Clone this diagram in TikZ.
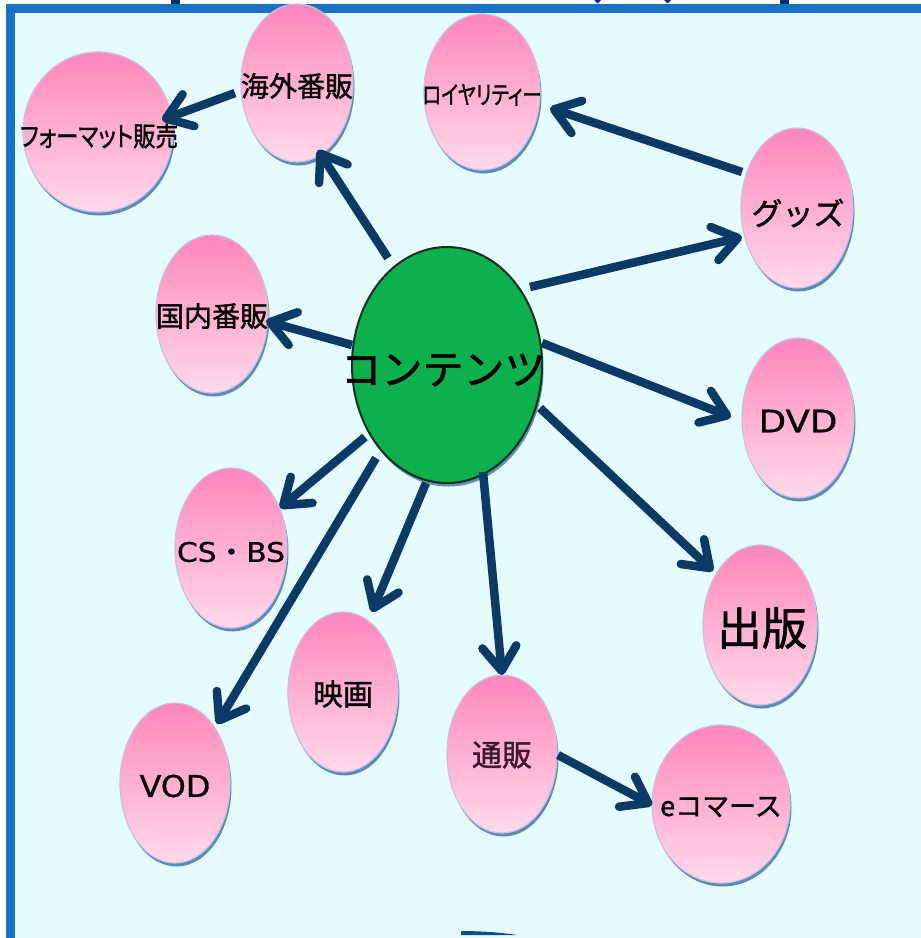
\documentclass[tikz,border=0pt]{standalone}
\usepackage{fontspec}
\newfontfamily\jp[FakeBold=1.3]{Noto Sans CJK JP}
\newfontfamily\jpp[RawFeature=+palt,FakeBold=1.3]{Noto Sans CJK JP}
\newfontfamily\lat[FakeBold=0.8]{DejaVu Sans}
\usetikzlibrary{shapes.geometric,arrows.meta,shadows}
\definecolor{bgc}{HTML}{E4FCFD}
\definecolor{framec}{HTML}{1872C6}
\definecolor{navy}{HTML}{0B3A66}
\definecolor{pinktop}{HTML}{FF86BB}
\definecolor{pinkbot}{HTML}{FFDAEA}
\definecolor{rimc}{HTML}{CDBDEA}
\definecolor{shadowc}{HTML}{4A83A8}
\definecolor{greenc}{HTML}{0CB14E}
\definecolor{greenrim}{HTML}{142E20}
\definecolor{darkbit}{HTML}{0B2F6A}
\definecolor{bottombit}{HTML}{0B4F8F}
\definecolor{tsuhanc}{HTML}{3B1B2E}
\tikzset{
  pinkball/.style={ellipse, inner sep=0pt, outer sep=0pt,
    top color=pinktop, bottom color=pinkbot, draw=rimc, line width=1.2pt,
    drop shadow={shadow xshift=1.5pt, shadow yshift=-3.5pt, fill=shadowc, opacity=0.9}},
  greenball/.style={ellipse, inner sep=0pt, outer sep=0pt,
    fill=greenc, draw=greenrim, line width=2pt,
    drop shadow={shadow xshift=1.5pt, shadow yshift=-3.5pt, fill=shadowc, opacity=0.9}},
  lbl/.style={inner sep=0pt, text=black},
  arr/.style={draw=navy, line width=8.5pt, -{Straight Barb[length=24pt,width=34pt,round]}}
}
\newcommand{\fs}[1]{\fontsize{#1}{#1}\selectfont}
\begin{document}
\begin{tikzpicture}[x=1pt,y=-1pt]
\useasboundingbox (0,0) rectangle (921,938);
\fill[white] (0,0) rectangle (921,938);
% frame
\draw[framec, fill=bgc, line width=9pt] (10,8.5) rectangle (935,943.5);
% cut-off marks at the top edge
\fill[darkbit] (171,0) rectangle (180,3.5);
\fill[darkbit] (594,0) -- (601,0) -- (597.5,3.5) -- cycle;
\fill[darkbit] (664,0) -- (671,0) -- (667.5,3.5) -- cycle;
\fill[darkbit] (780,0) rectangle (789,3.5);
% cut-off shape at the bottom edge
\fill[bottombit] (461,935) -- (461,931) .. controls (485,931) and (505,933) .. (517,935) -- cycle;

% nodes
\node[pinkball, minimum width=150pt, minimum height=160pt] (fmt) at (98,132) {};
\node[pinkball, minimum width=112pt, minimum height=158pt] (kaigai) at (297,83) {};
\node[pinkball, minimum width=116pt, minimum height=156pt] (roy) at (482,92) {};
\node[pinkball, minimum width=112pt, minimum height=160pt] (goods) at (797,208) {};
\node[pinkball, minimum width=112pt, minimum height=158pt] (kokunai) at (212,314) {};
\node[greenball, minimum width=190pt, minimum height=236pt] (c) at (447,365) {};
\node[pinkball, minimum width=112pt, minimum height=160pt] (dvd) at (798,418) {};
\node[pinkball, minimum width=114pt, minimum height=160pt] (shup) at (760,625) {};
\node[pinkball, minimum width=112pt, minimum height=160pt] (csbs) at (231,548) {};
\node[pinkball, minimum width=110pt, minimum height=160pt] (eiga) at (343,692) {};
\node[pinkball, minimum width=110pt, minimum height=158pt] (tsuhan) at (502,754) {};
\node[pinkball, minimum width=138pt, minimum height=158pt] (ecom) at (721,804) {};
\node[pinkball, minimum width=110pt, minimum height=160pt] (vod) at (175,783) {};

% labels
\node[lbl] (fmt-t) at ([shift={(1,4)}]fmt.center) {\scalebox{0.83}[1]{\jpp\fs{27}フォーマット販売}};
\node[lbl] (kaigai-t) at ([shift={(0,3)}]kaigai.center) {\jp\fs{28}海外番販};
\node[lbl] (roy-t) at ([shift={(0,3)}]roy.center) {\scalebox{0.77}[1]{\jpp\fs{25}ロイヤリティー}};
\node[lbl] (goods-t) at ([shift={(1,5)}]goods.center) {\jp\fs{31}グッズ};
\node[lbl] (kokunai-t) at ([shift={(0,2)}]kokunai.center) {\jp\fs{28}国内番販};
\node[lbl] (c-t) at ([shift={(-4,5)}]c.center) {\jp\fs{41}コンテンツ};
\node[lbl] (dvd-t) at ([shift={(0,3)}]dvd.center) {\scalebox{1.15}[1]{\lat\fs{31}DVD}};
\node[lbl] (shup-t) at ([shift={(2,3)}]shup.center) {\jp\fs{45}出版};
\node[lbl] (csbs-t) at ([shift={(0,4)}]csbs.center) {\scalebox{1.1}[1]{\lat\fs{27}CS{\jp・}BS}};
\node[lbl] (eiga-t) at ([shift={(0,2)}]eiga.center) {\jp\fs{30}映画};
\node[lbl, text=tsuhanc] (tsuhan-t) at ([shift={(0,1)}]tsuhan.center) {\jp\fs{30}通販};
\node[lbl] (ecom-t) at ([shift={(0,3)}]ecom.center) {\jp\fs{27}eコマース};
\node[lbl] (vod-t) at ([shift={(0,3)}]vod.center) {\scalebox{1.06}[1]{\lat\fs{30}VOD}};

% connectors
\draw[arr] ([shift={(-62,10)}]kaigai.center) -- ([shift={(64,-12)}]fmt.center);
\draw[arr] ([shift={(-59,-107)}]c.center) -- ([shift={(21,67)}]kaigai.center);
\draw[arr] ([shift={(-55,-36)}]goods.center) -- ([shift={(68,16)}]roy.center);
\draw[arr] ([shift={(83,-78)}]c.center) -- ([shift={(-55,29)}]goods.center);
\draw[arr] ([shift={(-95,-20)}]c.center) -- ([shift={(54,7)}]kokunai.center);
\draw[arr] ([shift={(95,-22)}]c.center) -- ([shift={(-67,-1)}]dvd.center);
\draw[arr] ([shift={(93,43)}]c.center) -- ([shift={(-47,-54)}]shup.center);
\draw[arr] ([shift={(-82,72)}]c.center) -- ([shift={(49,-40)}]csbs.center);
\draw[arr] ([shift={(-71,93)}]c.center) -- ([shift={(42,-59)}]vod.center);
\draw[arr] ([shift={(-21,118)}]c.center) -- ([shift={(29,-80)}]eiga.center);
\draw[arr] ([shift={(36,107)}]c.center) -- ([shift={(0,-79)}]tsuhan.center);
\draw[arr] ([shift={(56,1)}]tsuhan.center) -- ([shift={(-69,1)}]ecom.center);
\end{tikzpicture}
\end{document}
